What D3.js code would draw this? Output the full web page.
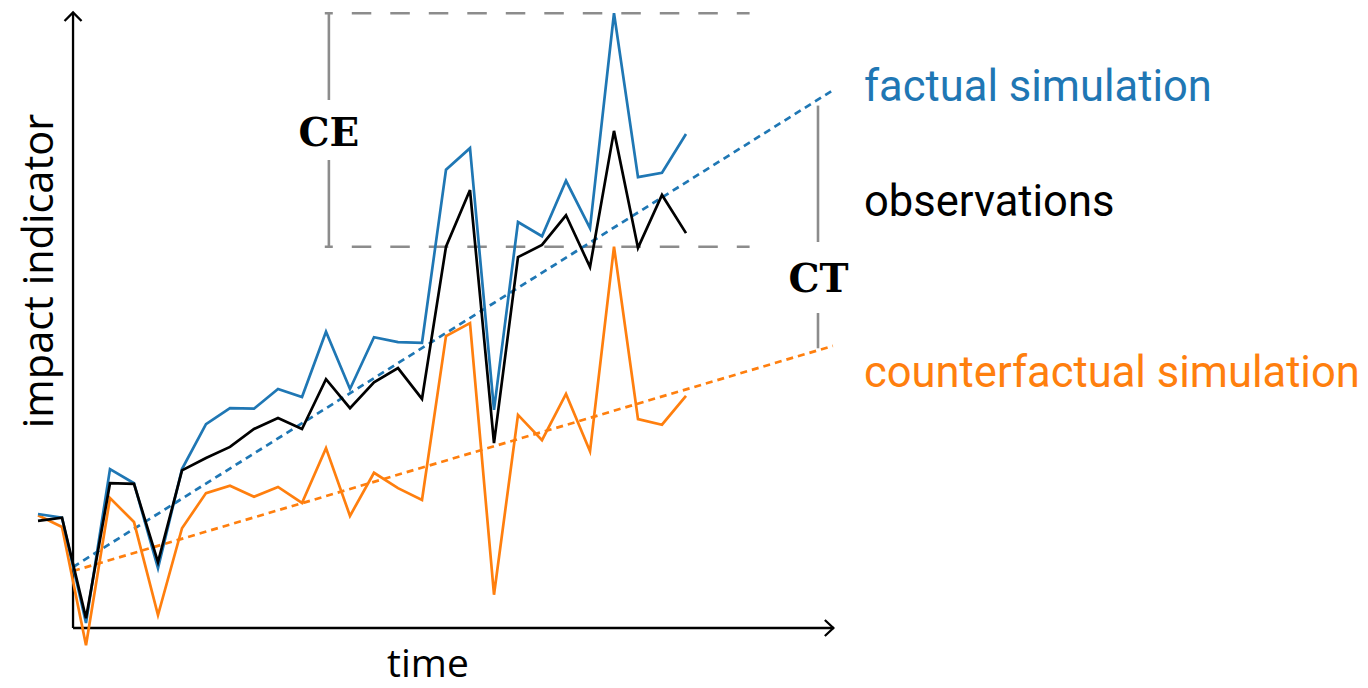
<!DOCTYPE html>
<html>
<head>
<meta charset="utf-8">
<script src="https://cdn.jsdelivr.net/npm/d3@7"></script>
<style>
  html, body { margin: 0; padding: 0; background: #fff; }
  svg { display: block; }
</style>
</head>
<body>
<svg id="chart" width="1368" height="688"></svg>
<script>
// ---- data (time index 0..27, impact indicator in arbitrary units) ----
const timeSteps = d3.range(28);
const factual = [18.5, 17.9, 0.8, 25.8, 23.5, 9.7, 25.8, 33.1, 35.7, 35.6, 38.8, 37.5, 48.1, 38.8,
                 47.2, 46.4, 46.3, 74.4, 77.9, 35.4, 65.9, 63.6, 72.6, 64.9, 99.8, 73.2, 73.9, 80.2];
const observations = [17.4, 17.9, 1.6, 23.5, 23.4, 10.7, 25.6, 27.6, 29.4, 32.3, 34.1, 32.3, 40.4, 35.7,
                      39.9, 42.2, 37.2, 61.9, 71.1, 30.0, 60.2, 62.2, 67.0, 58.6, 80.7, 61.7, 70.3, 64.1];
const counterfactual = [18.3, 16.4, -2.8, 21.1, 17.2, 2.1, 16.2, 21.9, 23.1, 21.3, 22.9, 20.3, 29.2, 18.2,
                        25.2, 22.7, 20.8, 47.4, 49.5, 5.4, 34.6, 30.5, 38.0, 28.7, 61.9, 33.9, 33.0, 37.7];
// linear trends: [time, value] at start and end
const factualTrend = [[1.46, 9.9], [33.12, 87.3]];
const counterfactualTrend = [[1.46, 9.25], [33.12, 45.8]];
const labels = ["factual simulation", "observations", "counterfactual simulation"];
const axisTitles = ["time", "impact indicator"];
const annotations = ["CE", "CT"];

// ---- layout ----
const svg = d3.select("#chart");
const x = d3.scaleLinear().domain([0, 27]).range([38, 686]);
const y = d3.scaleLinear().domain([0, 100]).range([628, 12]);

const BLUE = "#1f77b4", ORANGE = "#ff7f0e", GRAY = "#8c8c8c";

const line = d3.line().x((d, i) => x(i)).y(d => y(d));
const tline = d3.line().x(d => x(d[0])).y(d => y(d[1]));

// axes
const x0 = x(1.46), y0 = y(0);
const axisG = svg.append("g").attr("stroke", "#000").attr("stroke-width", 2.3).attr("fill", "none");
axisG.append("line").attr("x1", x0).attr("y1", y0).attr("x2", x0).attr("y2", y(100) + 1);
axisG.append("line").attr("x1", x0).attr("y1", y0).attr("x2", x(33.16)).attr("y2", y0);
axisG.append("path").attr("d", d3.line()([[x0 - 8.5, y(100) + 9], [x0, y(100) + 0.5], [x0 + 8.5, y(100) + 9]]));
axisG.append("path").attr("d", d3.line()([[x(33.16) - 9, y0 - 8], [x(33.16) - 0.5, y0], [x(33.16) - 9, y0 + 8]]));

// CE box (dashed gray)
const ceX = x(12.12), boxL = x(11.95), boxR = x(29.65);
const ceTop = y(factual[24]), ceBot = y(counterfactual[24]);
const gray = svg.append("g").attr("stroke", GRAY).attr("stroke-width", 2.6).attr("fill", "none");
[ceTop, ceBot].forEach(yy => {
  gray.append("line").attr("x1", boxL).attr("x2", boxR).attr("y1", yy).attr("y2", yy)
    .attr("stroke-dasharray", "19.5,19").attr("stroke-dashoffset", 11.5);
});
gray.append("line").attr("x1", ceX).attr("x2", ceX).attr("y1", ceTop).attr("y2", 100);
gray.append("line").attr("x1", ceX).attr("x2", ceX).attr("y1", 160).attr("y2", ceBot);

// CT bracket
const ctX = x(32.5);
const fT = d3.scaleLinear().domain([factualTrend[0][0], factualTrend[1][0]]).range([factualTrend[0][1], factualTrend[1][1]]);
const cT = d3.scaleLinear().domain([counterfactualTrend[0][0], counterfactualTrend[1][0]]).range([counterfactualTrend[0][1], counterfactualTrend[1][1]]);
gray.append("line").attr("x1", ctX).attr("x2", ctX).attr("y1", y(fT(32.5)) + 6).attr("y2", 242);
gray.append("line").attr("x1", ctX).attr("x2", ctX).attr("y1", 313).attr("y2", y(cT(32.5)) - 2);

// trend lines
svg.append("path").attr("d", tline(factualTrend)).attr("fill", "none")
  .attr("stroke", BLUE).attr("stroke-width", 2.7).attr("stroke-dasharray", "7,5");
svg.append("path").attr("d", tline(counterfactualTrend)).attr("fill", "none")
  .attr("stroke", ORANGE).attr("stroke-width", 2.7).attr("stroke-dasharray", "7,5");

// series
[[counterfactual, ORANGE], [factual, BLUE], [observations, "#000"]].forEach(([d, c]) => {
  svg.append("path").attr("d", line(d)).attr("fill", "none")
    .attr("stroke", c).attr("stroke-width", 2.7).attr("stroke-linejoin", "miter");
});

// labels
const lab = svg.append("g").attr("font-family", "Roboto, sans-serif").attr("font-size", 43.5);
lab.append("text").attr("x", 864).attr("y", 101).attr("fill", BLUE).text(labels[0]);
lab.append("text").attr("x", 864).attr("y", 216).attr("fill", "#000").text(labels[1]);
lab.append("text").attr("x", 864).attr("y", 387).attr("fill", ORANGE).text(labels[2]);

// axis titles
const at = svg.append("g").attr("font-family", "'Open Sans', sans-serif").attr("fill", "#000");
at.append("text").attr("x", 428).attr("y", 677).attr("font-size", 39).attr("text-anchor", "middle").text(axisTitles[0]);
at.append("text").attr("transform", "translate(53,271) rotate(-90)").attr("font-size", 41.5)
  .attr("text-anchor", "middle").text(axisTitles[1]);

// annotation letters
const an = svg.append("g").attr("font-family", "'DejaVu Serif', serif").attr("font-weight", "bold")
  .attr("font-size", 39).attr("fill", "#000").attr("text-anchor", "middle");
an.append("text").attr("x", ceX).attr("y", 146).text(annotations[0]);
an.append("text").attr("x", ctX + 0.5).attr("y", 292).text(annotations[1]);
</script>
</body>
</html>
